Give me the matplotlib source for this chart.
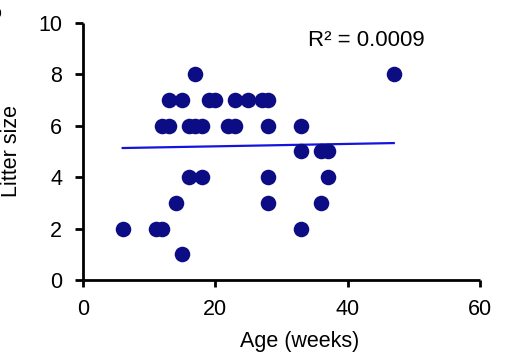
import numpy as np
import matplotlib
matplotlib.use("Agg")
import matplotlib.pyplot as plt

plt.rcParams['font.family'] = ['Liberation Sans', 'DejaVu Sans']

# Data (age in weeks, litter size)
age = [15,
       6, 11, 12, 33,
       14, 28, 36,
       16, 18, 28, 37,
       33, 36, 37,
       12, 13, 16, 17, 18, 22, 23, 28, 33,
       13, 15, 19, 20, 23, 25, 27, 28,
       17, 47]
litter = [1,
          2, 2, 2, 2,
          3, 3, 3,
          4, 4, 4, 4,
          5, 5, 5,
          6, 6, 6, 6, 6, 6, 6, 6, 6,
          7, 7, 7, 7, 7, 7, 7, 7,
          8, 8]
# Linear trend line as shown in the figure
trend_intercept = 5.10
trend_slope = 0.0047
r2_label = "R\u00b2 = 0.0009"
xticks = [0, 20, 40, 60]
yticks = [0, 2, 4, 6, 8, 10]

age = np.array(age, dtype=float)
litter = np.array(litter, dtype=float)

fig = plt.figure(figsize=(5.17, 3.58), dpi=100)
ax = fig.add_axes([0.1605, 0.218, 0.7675, 0.7186])

ax.plot(age, litter, 'o', color='#0c0c84', markersize=11.2, markeredgewidth=0, zorder=3)

xs = np.array([age.min(), age.max()])
ax.plot(xs, trend_intercept + trend_slope * xs, color='#1414dc', lw=1.6, zorder=2)

ax.set_xlim(0, 60)
ax.set_ylim(0, 10)
ax.set_xticks(xticks)
ax.set_yticks(yticks)
for s in ['top', 'right']:
    ax.spines[s].set_visible(False)
for s in ['left', 'bottom']:
    ax.spines[s].set_linewidth(2.0)
    ax.spines[s].set_capstyle('butt')
ax.tick_params(axis='x', direction='out', length=5, width=2.0, labelsize=15.5, pad=9)
ax.tick_params(axis='y', direction='out', length=6, width=2.0, labelsize=15.5, pad=9)

ax.set_xlabel('Age (weeks)', fontsize=15.5)
ax.set_ylabel('Litter size', fontsize=15.5, va='center', ha='center')
ax.xaxis.set_label_coords(0.547, -0.2)
ax.yaxis.set_label_coords(-0.18, 0.5)

ax.text(0.715, 0.93, r2_label, transform=ax.transAxes, fontsize=16, ha='center', va='center')

fig.text(-0.008, 0.985, 'b', fontsize=14, fontweight='bold', ha='center', va='top')

fig.savefig('out.png', dpi=100)
